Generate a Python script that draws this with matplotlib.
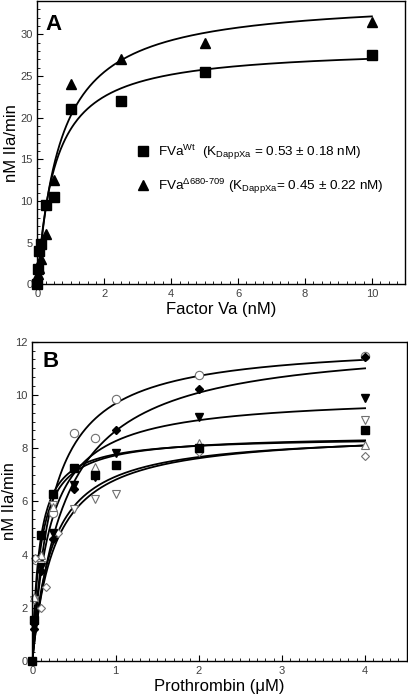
import numpy as np
import matplotlib
matplotlib.use("Agg")
import matplotlib.pyplot as plt
from matplotlib.ticker import MultipleLocator, AutoMinorLocator

plt.rcParams['font.family'] = ['Liberation Sans', 'DejaVu Sans']
plt.rcParams['mathtext.default'] = 'regular'

# ---- panel A: factor Va titration ----
va_nM = [0, 0.025, 0.05, 0.1, 0.25, 0.5, 1, 2.5, 5, 10]
wt_rate = [0, 1.8, 4.0, 4.8, 9.5, 10.5, 21.0, 22.0, 25.5, 27.5]
mut_va_nM = [0.025, 0.05, 0.1, 0.25, 0.5, 1, 2.5, 5, 10]
mut_rate = [1.2, 2.0, 3.0, 6.0, 12.5, 24.0, 27.0, 29.0, 31.5]
# hyperbolic fits (Vmax, K)
fit_a_vmax = [28.5, 34.4]
fit_a_km = [0.53, 0.70]

# ---- panel B: prothrombin titration, 8 data sets ----
b_open_circle_x = [0.05, 0.25, 0.5, 0.75, 1, 2, 4]
b_open_circle_y = [3.8, 5.55, 8.58, 8.37, 9.85, 10.75, 11.45]
b_diamond_x = [0.025, 0.1, 0.25, 0.5, 1, 2, 4]
b_diamond_y = [1.2, 3.4, 4.6, 6.45, 8.68, 10.21, 11.42]
b_down_x = [0.025, 0.1, 0.25, 0.5, 0.75, 1, 2, 4]
b_down_y = [1.3, 3.55, 4.8, 6.6, 6.9, 7.8, 9.18, 9.9]
b_open_down_x = [0.025, 0.1, 0.25, 0.5, 0.75, 1, 4]
b_open_down_y = [2.3, 3.6, 5.85, 5.71, 6.08, 6.26, 9.06]
b_square_x = [0, 0.025, 0.1, 0.25, 0.5, 0.75, 1, 2, 4]
b_square_y = [0, 1.54, 4.73, 6.26, 7.26, 6.99, 7.37, 7.99, 8.68]
b_open_up_x = [0.025, 0.1, 0.25, 0.75, 2, 4]
b_open_up_y = [2.4, 4.0, 5.8, 7.3, 8.2, 8.12]
b_open_diamond_x = [0.03, 0.1, 0.17, 0.31, 2, 4]
b_open_diamond_y = [3.86, 1.98, 2.79, 4.8, 7.85, 7.7]
# hyperbolic fits (Vmax, K)
fit_b_vmax = [12.0, 12.1, 10.0, 8.43, 8.5, 8.58, 8.65]
fit_b_km = [0.24, 0.40, 0.21, 0.085, 0.10, 0.238, 0.27]

tick_grey = '#404040'

fig = plt.figure(figsize=(4.08, 6.95), dpi=100)

def style_axes(ax):
    for s in ax.spines.values():
        s.set_linewidth(1.0)
    ax.tick_params(which='both', direction='in', labelsize=8, labelcolor=tick_grey,
                   top=False, right=False)
    ax.tick_params(which='major', length=4, width=0.8)
    ax.tick_params(which='minor', length=2.5, width=0.6)

# panel A
ax1 = fig.add_axes([0.0915, 0.591, 0.902, 0.4076])
xa = np.linspace(0, 10, 300)
for vm, km in zip(fit_a_vmax, fit_a_km):
    ax1.plot(xa, vm * xa / (km + xa), color='black', lw=1.3)
ax1.plot(va_nM, wt_rate, ls='none', marker='s', ms=6.5, color='black', clip_on=False,
         label=r'FVa$^{Wt}$  (K$_{DappXa}$ = 0.53 ± 0.18 nM)')
ax1.plot(mut_va_nM, mut_rate, ls='none', marker='^', ms=6.5, color='black', clip_on=False,
         label=r'FVa$^{\Delta 680\text{-}709}$ (K$_{DappXa}$= 0.45 ± 0.22 nM)')
ax1.set_xlim(0, 11)
ax1.set_ylim(0, 34)
ax1.xaxis.set_major_locator(MultipleLocator(2))
ax1.xaxis.set_minor_locator(MultipleLocator(0.25))
ax1.yaxis.set_major_locator(MultipleLocator(5))
ax1.yaxis.set_minor_locator(MultipleLocator(1))
style_axes(ax1)
ax1.set_xlabel('Factor Va (nM)', fontsize=12, labelpad=2)
ax1.set_ylabel('nM IIa/min', fontsize=12)
ax1.yaxis.set_label_coords(-0.051, 0.5)
ax1.text(0.022, 0.955, 'A', transform=ax1.transAxes, fontsize=16, fontweight='bold',
         va='top', ha='left')
ax1.legend(loc='upper left', bbox_to_anchor=(0.268, 0.5), frameon=False, fontsize=9.7,
           handlelength=1, handletextpad=0.6, labelspacing=1.1, borderpad=0, borderaxespad=0)

# panel B
ax2 = fig.add_axes([0.0792, 0.0489, 0.9176, 0.4594])
xb = np.linspace(0, 4, 300)
for vm, km in zip(fit_b_vmax, fit_b_km):
    ax2.plot(xb, vm * xb / (km + xb), color='black', lw=1.3)
open_kw = dict(ls='none', mfc='white', mec='#707070', mew=0.8, clip_on=False)
ax2.plot(b_open_circle_x, b_open_circle_y, marker='o', ms=6, **open_kw)
ax2.plot(b_open_down_x, b_open_down_y, marker='v', ms=6, **open_kw)
ax2.plot(b_open_up_x, b_open_up_y, marker='^', ms=6, **open_kw)
ax2.plot(b_open_diamond_x, b_open_diamond_y, marker='D', ms=4.5, **open_kw)
ax2.plot(b_diamond_x, b_diamond_y, ls='none', marker='D', ms=4.5, color='black', clip_on=False)
ax2.plot(b_down_x, b_down_y, ls='none', marker='v', ms=6, color='black', clip_on=False)
ax2.plot(b_square_x, b_square_y, ls='none', marker='s', ms=5.5, color='black', clip_on=False)
ax2.set_xlim(0, 4.5)
ax2.set_ylim(0, 12)
ax2.xaxis.set_major_locator(MultipleLocator(1))
ax2.xaxis.set_minor_locator(MultipleLocator(0.1))
ax2.yaxis.set_major_locator(MultipleLocator(2))
ax2.yaxis.set_minor_locator(AutoMinorLocator(6))
style_axes(ax2)
ax2.set_xlabel('Prothrombin (μM)', fontsize=12, labelpad=2)
ax2.set_ylabel('nM IIa/min', fontsize=12)
ax2.yaxis.set_label_coords(-0.040, 0.5)
ax2.text(0.026, 0.97, 'B', transform=ax2.transAxes, fontsize=16, fontweight='bold',
         va='top', ha='left')

fig.savefig('out.png', dpi=100)
